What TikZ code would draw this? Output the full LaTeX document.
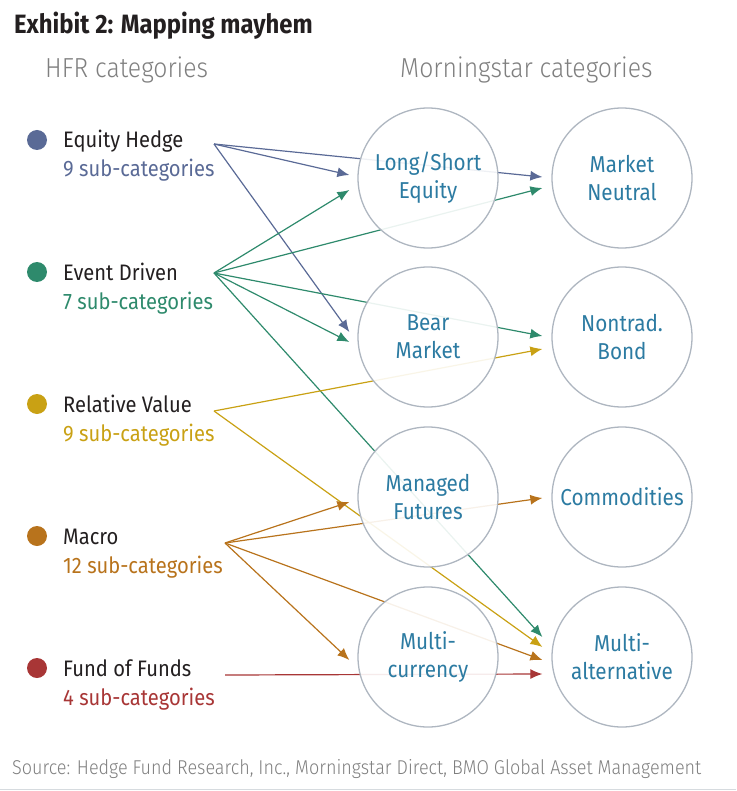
\documentclass[tikz,border=0pt]{standalone}
\usepackage{fontspec}
\setmainfont{Fira Sans}[FakeStretch=0.9]
\newfontfamily\lightfont{Fira Sans Light}[FakeStretch=0.9]
\usetikzlibrary{arrows.meta}
\definecolor{hedge}{HTML}{5A6A96}
\definecolor{event}{HTML}{2E8A6C}
\definecolor{relval}{HTML}{C9A114}
\definecolor{macro}{HTML}{B8731C}
\definecolor{fof}{HTML}{A83636}
\definecolor{mstext}{HTML}{2C7BA2}
\definecolor{ring}{HTML}{AEB6C0}
\definecolor{head}{HTML}{7F7F7F}
\definecolor{ink}{HTML}{231F20}
\pgfdeclarelayer{bg}
\pgfsetlayers{bg,main}
\tikzset{
  mscat/.style={circle,draw=ring,line width=1.3pt,fill=white,fill opacity=0.9,
    text opacity=1,minimum size=140pt,inner sep=0pt,align=center,text=mstext,
    font=\fontsize{23}{28}\selectfont},
  hfrname/.style={anchor=base west,inner sep=0pt,text=ink,font=\fontsize{22.4}{26}\selectfont},
  hfrsub/.style={anchor=base west,inner sep=0pt,font=\fontsize{22.4}{26}\selectfont},
  hfrdot/.style={circle,inner sep=0pt,minimum size=20pt},
  link/.style={line width=1.2pt,-{Latex[length=12pt,width=10pt]}},
}
\begin{document}
\begin{tikzpicture}[x=1pt,y=-1pt]
\useasboundingbox (0,0) rectangle (736,791);
\node[anchor=base west,inner sep=0pt,text=ink,font=\bfseries\fontsize{26.5}{30}\selectfont] (title) at (14,34) {Exhibit 2: Mapping mayhem};
\node[anchor=base west,inner sep=0pt,text=head,font=\lightfont\fontsize{27.5}{32}\selectfont] (hfr) at (45,78) {HFR categories};
\node[anchor=base west,inner sep=0pt,text=head,font=\lightfont\fontsize{27.5}{32}\selectfont] (ms) at (400,78) {Morningstar categories};

% HFR side
\node[hfrdot,fill=hedge] (eh-dot) at (37,140) {};
\node[hfrname] (eh) at (63,148) {Equity Hedge};
\node[hfrsub,text=hedge] (eh-sub) at (63,177) {9 sub-categories};
\node[hfrdot,fill=event] (ed-dot) at (37,272) {};
\node[hfrname] (ed) at (63,280) {Event Driven};
\node[hfrsub,text=event] (ed-sub) at (63,309) {7 sub-categories};
\node[hfrdot,fill=relval] (rv-dot) at (37,404) {};
\node[hfrname] (rv) at (63,412) {Relative Value};
\node[hfrsub,text=relval] (rv-sub) at (63,441) {9 sub-categories};
\node[hfrdot,fill=macro] (ma-dot) at (37,536) {};
\node[hfrname] (ma) at (63,544) {Macro};
\node[hfrsub,text=macro] (ma-sub) at (63,573) {12 sub-categories};
\node[hfrdot,fill=fof] (ff-dot) at (37,668) {};
\node[hfrname] (ff) at (63,676) {Fund of Funds};
\node[hfrsub,text=fof] (ff-sub) at (63,705) {4 sub-categories};

\coordinate (eh-o) at (214,144);
\coordinate (ed-o) at (214,273);
\coordinate (rv-o) at (214,411);
\coordinate (ma-o) at (225,543);
\coordinate (ff-o) at (225,675);

% Morningstar side
\node[mscat] (ls) at (428,178) {Long/Short\\Equity};
\node[mscat] (mn) at (622,178) {Market\\Neutral};
\node[mscat] (bm) at (428,337) {Bear\\Market};
\node[mscat] (nb) at (622,337) {Nontrad.\\Bond};
\node[mscat] (mf) at (428,497) {Managed\\Futures};
\node[mscat] (co) at (622,497) {Commodities};
\node[mscat] (mc) at (428,657) {Multi-\\currency};
\node[mscat] (alt) at (622,657) {Multi-\\alternative};

\begin{pgfonlayer}{bg}
\draw[link,hedge] (eh-o) -- ([shift={(-8,-3)}]ls.west);
\draw[link,hedge] (eh-o) -- ([shift={(-9,-1)}]mn.west);
\draw[link,hedge] (eh-o) -- ([shift={(-8,-5)}]bm.west);
\draw[link,event] (ed-o) -- ([shift={(-8,12)}]ls.west);
\draw[link,event] (ed-o) -- ([shift={(-9,10)}]mn.west);
\draw[link,event] (ed-o) -- ([shift={(-8,5)}]bm.west);
\draw[link,event] (ed-o) -- ([shift={(-9,-1)}]nb.west);
\draw[link,event] (ed-o) -- ([shift={(-9,-20)}]alt.west);
\draw[link,relval] (rv-o) -- ([shift={(-9,12)}]nb.west);
\draw[link,relval] (rv-o) -- ([shift={(-9,-10)}]alt.west);
\draw[link,macro] (ma-o) -- ([shift={(-8,5)}]mf.west);
\draw[link,macro] (ma-o) -- ([shift={(-9,1)}]co.west);
\draw[link,macro] (ma-o) -- ([shift={(-9,3)}]alt.west);
\draw[link,macro] (ma-o) -- ([shift={(-8,3)}]mc.west);
\draw[link,fof] (ff-o) -- ([shift={(-9,17)}]alt.west);
\end{pgfonlayer}

\node[anchor=base west,inner sep=0pt,text=head,font=\lightfont\fontsize{20}{24}\selectfont] (src) at (12,774) {Source: Hedge Fund Research, Inc., Morningstar Direct, BMO Global Asset Management};
\draw[ring!50,line width=1pt] (0,789) -- (736,789);
\end{tikzpicture}
\end{document}
